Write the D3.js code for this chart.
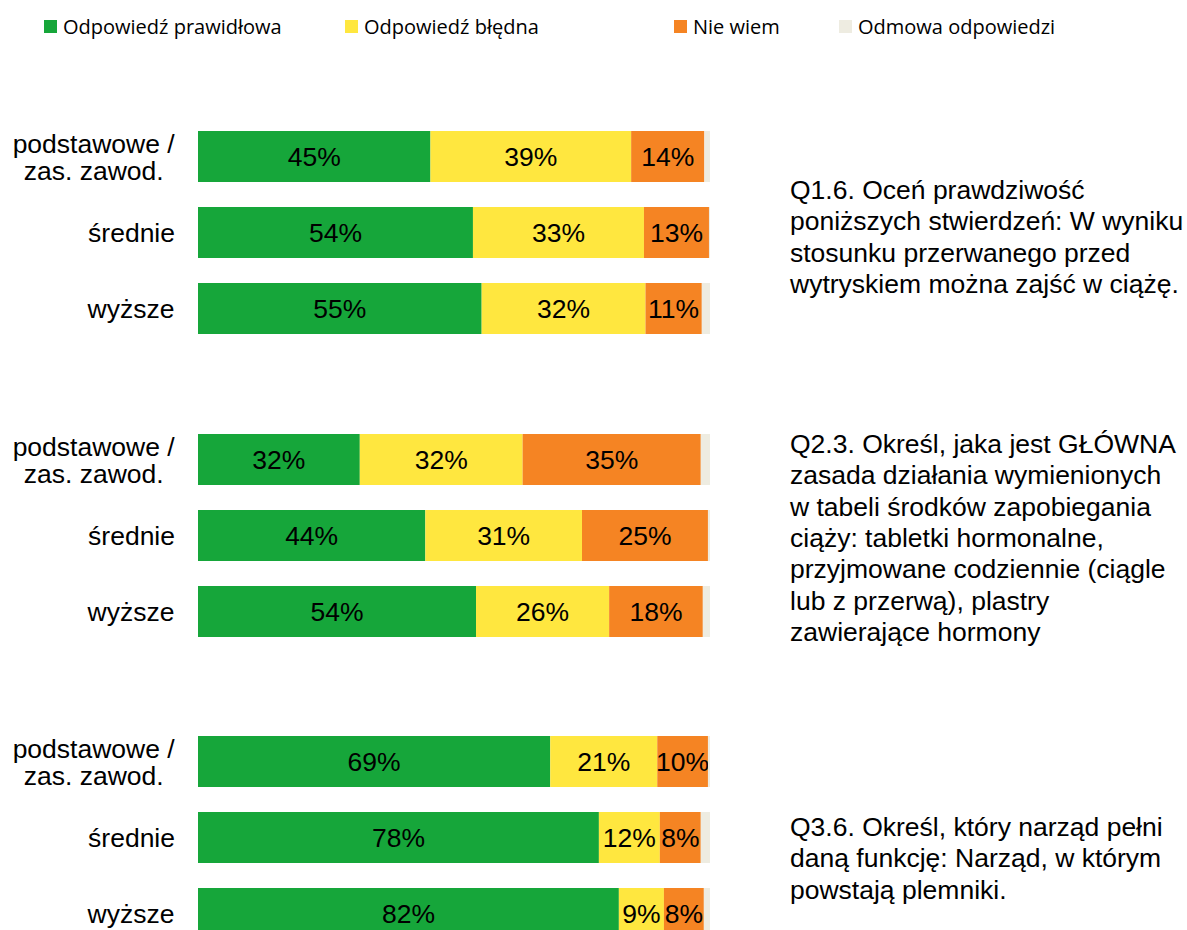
<!DOCTYPE html>
<html>
<head>
<meta charset="utf-8">
<script src="https://cdn.jsdelivr.net/npm/d3@7"></script>
<style>
  body { margin: 0; background: #fff; }
  svg { display: block; }
</style>
</head>
<body>
<svg id="chart" width="1187" height="930"></svg>
<script>
// categories (education level), one row per bar
let categories = ["podstawowe / zas. zawod.", "średnie", "wyższe"]
let categoryLines = [["podstawowe /", "zas. zawod."], ["średnie"], ["wyższe"]]

let seriesNames = ["Odpowiedź prawidłowa", "Odpowiedź błędna", "Nie wiem", "Odmowa odpowiedzi"]
let seriesColors = ["#16a63a", "#ffe73f", "#f58423", "#eeece1"]

// values in %, one array per question, rows follow categories
let q1Correct = [45.4, 53.7, 55.4]
let q1Wrong   = [39.2, 33.4, 32.0]
let q1DontKnow = [14.3, 12.7, 11.0]
let q1Refusal = [1.1, 0.2, 1.6]

let q2Correct = [31.6, 44.4, 54.3]
let q2Wrong   = [31.8, 30.6, 26.0]
let q2DontKnow = [34.8, 24.6, 18.3]
let q2Refusal = [1.8, 0.4, 1.4]

let q3Correct = [68.8, 78.3, 82.2]
let q3Wrong   = [20.9, 11.9, 8.8]
let q3DontKnow = [9.9, 8.0, 7.8]
let q3Refusal = [0.4, 1.8, 1.2]

let q1Text = ["Q1.6. Oceń prawdziwość", "poniższych stwierdzeń: W wyniku",
  "stosunku przerwanego przed", "wytryskiem można zajść w ciążę."]
let q2Text = ["Q2.3. Określ, jaka jest GŁÓWNA", "zasada działania wymienionych",
  "w tabeli środków zapobiegania", "ciąży: tabletki hormonalne,",
  "przyjmowane codziennie (ciągle", "lub z przerwą), plastry", "zawierające hormony"]
let q3Text = ["Q3.6. Określ, który narząd pełni", "daną funkcję: Narząd, w którym",
  "powstają plemniki."]

let groups = [
  { series: [q1Correct, q1Wrong, q1DontKnow, q1Refusal], text: q1Text },
  { series: [q2Correct, q2Wrong, q2DontKnow, q2Refusal], text: q2Text },
  { series: [q3Correct, q3Wrong, q3DontKnow, q3Refusal], text: q3Text }
]

const svg = d3.select('#chart')
const font = "'Liberation Sans', Arial, sans-serif"
const fontSize = 26.5

const x = d3.scaleLinear().domain([0, 100]).range([198, 710])

const groupTops = [131, 434, 736]
const stack = d3.stack().keys([0, 1, 2, 3])

groups.forEach((grp, gi) => {
  const top = groupTops[gi]
  const y = d3.scaleBand()
    .domain(categories)
    .range([top - 12.5, top - 12.5 + 228])
    .paddingInner(0.329)
    .paddingOuter(0.1645)

  const rows = categories.map((c, i) => {
    let r = { cat: c }
    grp.series.forEach((s, k) => r[k] = s[i])
    return r
  })
  const layers = stack(rows)

  const g = svg.append('g').attr('class', 'group')

  layers.forEach((layer, k) => {
    g.selectAll('rect.s' + k)
      .data(layer)
      .enter()
      .append('rect')
      .attr('class', 's' + k)
      .attr('x', d => x(d[0]))
      .attr('y', d => y(d.data.cat))
      .attr('width', d => x(d[1]) - x(d[0]))
      .attr('height', y.bandwidth())
      .attr('fill', seriesColors[k])

    // value labels, not for refusal
    if (k < 3) {
      g.selectAll('text.v' + k)
        .data(layer)
        .enter()
        .append('text')
        .attr('class', 'v' + k)
        .attr('x', d => (x(d[0]) + x(d[1])) / 2)
        .attr('y', d => y(d.data.cat) + y.bandwidth() / 2 + 9.5)
        .attr('text-anchor', 'middle')
        .attr('font-family', font)
        .attr('font-size', fontSize)
        .attr('fill', '#000')
        .text(d => d3.format('.0f')(d[1] - d[0]) + '%')
    }
  })

  // category labels, right aligned block, lines centred in it
  categories.forEach((c, i) => {
    const lines = categoryLines[i]
    const cy = y(c) + y.bandwidth() / 2
    const t = g.append('text')
      .attr('font-family', font)
      .attr('font-size', fontSize)
      .attr('fill', '#000')
    lines.forEach((ln, li) => {
      t.append('tspan')
        .attr('x', 0)
        .attr('y', cy + 9.5 + (li - (lines.length - 1) / 2) * 27)
        .attr('text-anchor', 'middle')
        .text(ln)
    })
    // measure and shift so block ends at x=175
    const w = t.node().getBBox().width
    t.selectAll('tspan').attr('x', 175 - w / 2)
  })
})

// question texts on the right
const qBaselines = [199, 453, 836]
groups.forEach((grp, gi) => {
  const t = svg.append('text')
    .attr('font-family', font)
    .attr('font-size', fontSize)
    .attr('fill', '#000')
  grp.text.forEach((ln, li) => {
    t.append('tspan')
      .attr('x', 790)
      .attr('y', qBaselines[gi] + li * 31.3)
      .text(ln)
  })
})

// legend
const legendX = [44, 345, 674, 839]
const legend = svg.append('g').attr('class', 'legend')
seriesNames.forEach((name, k) => {
  legend.append('rect')
    .attr('x', legendX[k])
    .attr('y', 20)
    .attr('width', 13)
    .attr('height', 13)
    .attr('fill', seriesColors[k])
  legend.append('text')
    .attr('x', legendX[k] + 19)
    .attr('y', 34)
    .attr('font-family', "'Open Sans', 'Noto Sans', sans-serif")
    .attr('font-size', 20)
    .attr('fill', '#000')
    .text(name)
})
</script>
</body>
</html>
